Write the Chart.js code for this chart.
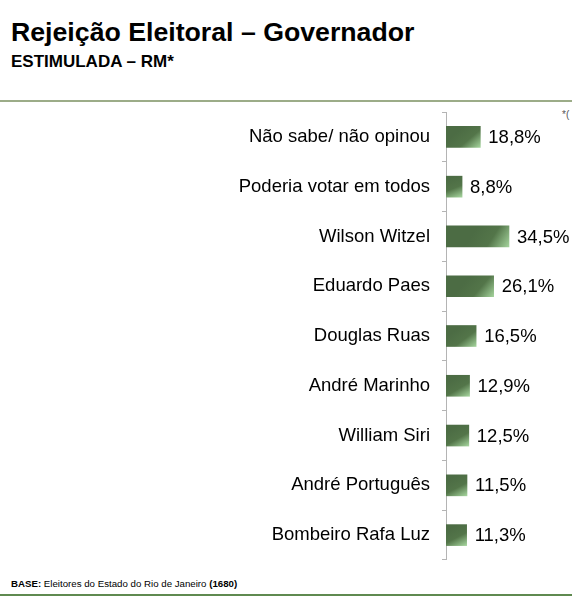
<!DOCTYPE html>
<html>
<head>
<meta charset="utf-8">
<script src="https://cdn.jsdelivr.net/npm/chart.js@4/dist/chart.umd.min.js"></script>
<style>
  body { margin: 0; background: #fff; font-family: "Liberation Sans", Arial, sans-serif; }
  #page { position: relative; width: 572px; height: 597px; overflow: hidden; }
  #title { position: absolute; left: 11px; top: 17px; font-size: 26.7px; font-weight: bold; color: #000; white-space: nowrap; }
  #subtitle { position: absolute; left: 11px; top: 52px; font-size: 17px; font-weight: bold; color: #000; white-space: nowrap; }
  #topline { position: absolute; left: 0; top: 100px; width: 572px; height: 2px; background: #9cac88; }
  #note { position: absolute; left: 562px; top: 109px; font-size: 10px; color: #555; white-space: nowrap; }
  #box { position: absolute; left: 0; top: 112px; width: 572px; height: 448px; }
  #base { position: absolute; left: 11px; top: 578px; font-size: 9.7px; color: #000; white-space: nowrap; }
  #bottomline { position: absolute; left: 0; top: 594px; width: 572px; height: 2px; background: #5f8a50; }
</style>
</head>
<body>
<div id="page">
  <div id="title">Rejeição Eleitoral – Governador</div>
  <div id="subtitle">ESTIMULADA – RM*</div>
  <div id="topline"></div>
  <div id="note">*(</div>
  <div id="box"><canvas id="bar"></canvas></div>
  <div id="base"><b>BASE:</b> Eleitores do Estado do Rio de Janeiro <b>(1680)</b></div>
  <div id="bottomline"></div>
</div>
<script>
const categories = [
  "Não sabe/ não opinou",
  "Poderia votar em todos",
  "Wilson Witzel",
  "Eduardo Paes",
  "Douglas Ruas",
  "André Marinho",
  "William Siri",
  "André Português",
  "Bombeiro Rafa Luz"
];
const rejeicao = [18.8, 8.8, 34.5, 26.1, 16.5, 12.9, 12.5, 11.5, 11.3];

const FONT = "'Liberation Sans', Arial, sans-serif";

// gradient per bar, dark green fading to light green at bottom-right
function barGradient(context) {
  const chart = context.chart;
  if (!chart.chartArea || context.type !== "data") return "#4d6e46";
  const x = chart.scales.x, y = chart.scales.y;
  const x0 = x.getPixelForValue(0);
  const x1 = x.getPixelForValue(context.raw);
  const yc = y.getPixelForValue(context.dataIndex);
  const g = chart.ctx.createLinearGradient(x0 + (x1 - x0) * 0.5, yc - 10, x1, yc + 10);
  g.addColorStop(0, "#4c6c44");
  g.addColorStop(0.5, "#537549");
  g.addColorStop(1, "#a2d19a");
  return g;
}

const valueLabels = {
  id: "valueLabels",
  afterDatasetsDraw(chart) {
    const ctx = chart.ctx;
    const meta = chart.getDatasetMeta(0);
    ctx.save();
    ctx.font = "18.5px " + FONT;
    ctx.fillStyle = "#000";
    ctx.textAlign = "left";
    ctx.textBaseline = "middle";
    meta.data.forEach((bar, i) => {
      const txt = rejeicao[i].toFixed(1).replace(".", ",") + "%";
      ctx.fillText(txt, bar.x + 8, bar.y + 1);
    });
    ctx.restore();
  }
};

const bar = document.getElementById("bar");
var myChart = new Chart(bar, {
  type: "bar",
  data: {
    labels: categories,
    datasets: [
      {
        data: rejeicao,
        backgroundColor: barGradient,
        borderWidth: 0,
        barThickness: 21,
      },
    ],
  },
  options: {
    indexAxis: "y",
    responsive: true,
    maintainAspectRatio: false,
    animation: false,
    layout: { padding: 0 },
    plugins: {
      legend: { display: false },
      tooltip: { enabled: false },
    },
    scales: {
      x: {
        display: false,
        min: 0,
        max: 69,
      },
      y: {
        afterFit(scale) {
          scale.width = 446;
          scale.paddingTop = 0;
          scale.paddingBottom = 0;
        },
        border: { color: "#b4b4b4", width: 1 },
        grid: {
          offset: true,
          drawOnChartArea: false,
          drawTicks: true,
          tickLength: 4,
          color: "#b4b4b4",
        },
        ticks: {
          padding: 12,
          color: "#000",
          font: { family: FONT, size: 18.5 },
        },
      },
    },
  },
  plugins: [valueLabels],
});
</script>
</body>
</html>
